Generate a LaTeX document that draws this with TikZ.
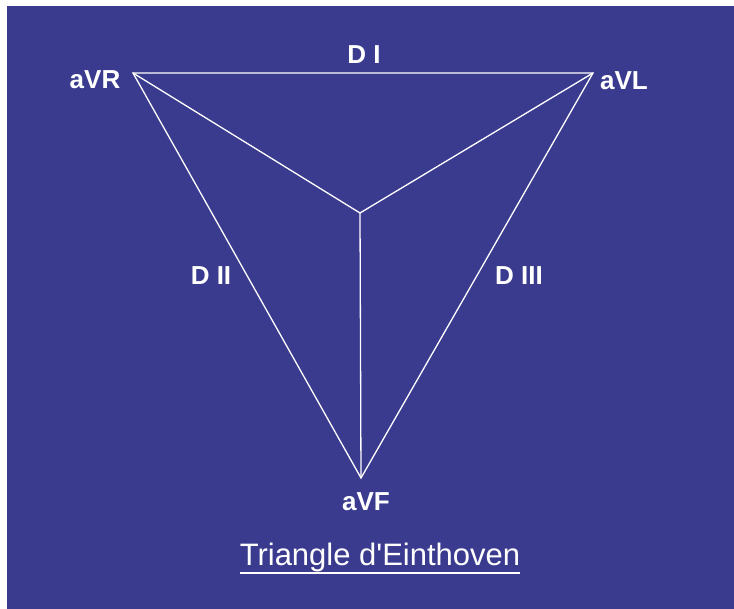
\documentclass[tikz,border=0pt]{standalone}
\usepackage{fontspec}
\setmainfont{Liberation Sans}
\usetikzlibrary{calc}
\definecolor{bgblue}{RGB}{58,59,142}
\tikzset{lead/.style={white,line width=1.3pt},label/.style={text=white,inner sep=0pt,anchor=base,font=\bfseries\fontsize{26}{30}\selectfont},title/.style={text=white,inner sep=0pt,anchor=base,font=\fontsize{31}{36}\selectfont}}

\begin{document}
\begin{tikzpicture}[x=1pt,y=-1pt]
\useasboundingbox (0,0) rectangle (734,609);
\fill[white] (0,0) rectangle (734,609);
\fill[bgblue] (7,6) rectangle (734,609);
% vertices
\coordinate (avr) at (133,73);
\coordinate (avl) at (593,73);
\coordinate (avf) at (361,478);
\coordinate (ctr) at (360,213);
\draw[lead] (avr)--(avl)--(avf)--cycle;
\draw[lead] (avr)--(ctr) (avl)--(ctr) (avf)--(ctr);
% labels
\node[label] (lavr) at (95,89){aVR};
\node[label] (lavl) at (624,90){aVL};
\node[label] (lavf) at (366,511){aVF};
\node[label] (ldi) at (364,64){D I};
\node[label] (ldii) at (211,285){D II};
\node[label] (ldiii) at (519,285){D III};
\node[title] (ttl) at (380,565){Triangle d\textquotesingle Einthoven};
\draw[white,line width=1.5pt] ([yshift=-8pt]ttl.base west)--([yshift=-8pt]ttl.base east);
\end{tikzpicture}
\end{document}
